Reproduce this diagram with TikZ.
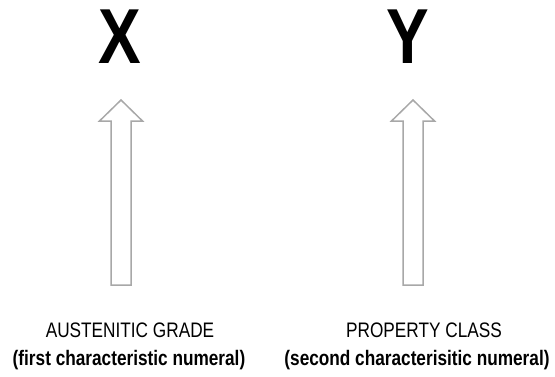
\documentclass[tikz,border=0pt]{standalone}
\usepackage{fontspec}
\setmainfont{Liberation Sans}
\newfontfamily\narrowsf[FakeStretch=0.82]{Liberation Sans}
\usepackage{tikz}
\usetikzlibrary{positioning}
\definecolor{arrowgray}{HTML}{A8A8A8}

\begin{document}
\begin{tikzpicture}[
		x=1pt, y=-1pt,
		every node/.style={align=center, inner sep=0pt},
		letter/.style={font=\narrowsf\bfseries\fontsize{78}{80}\selectfont, anchor=base},
		caption/.style={font=\narrowsf\fontsize{21}{24}\selectfont, anchor=base},
		subcaption/.style={font=\narrowsf\bfseries\fontsize{21}{24}\selectfont, anchor=base},
		arrline/.style={draw=arrowgray, line width=1.5pt, fill=white},
		hollowup/.pic={
				\draw[arrline] (-10,0) -- (-10,-164) -- (-21.5,-164) -- (0,-185)
				-- (21.5,-164) -- (10,-164) -- (10,0) -- cycle;
			},
		]
		\useasboundingbox (0,0) rectangle (555,376);

		% Kennbuchstaben
		\node[letter] (xlet) at (120,63) {X};
		\node[letter] (ylet) at (408,63) {Y};

		% Pfeile
		\pic at (121,285) {hollowup};
		\pic at (413,285) {hollowup};

		% Beschriftungen links
		\node[caption]    (grade)    at (130,337) {AUSTENITIC GRADE};
		\node[subcaption] (gradesub) at (129,365) {(first characteristic numeral)};

		% Beschriftungen rechts
		\node[caption]    (pclass)    at (424,337) {PROPERTY CLASS};
		\node[subcaption] (pclasssub) at (417,365) {(second characterisitic numeral)};

	\end{tikzpicture}
\end{document}
